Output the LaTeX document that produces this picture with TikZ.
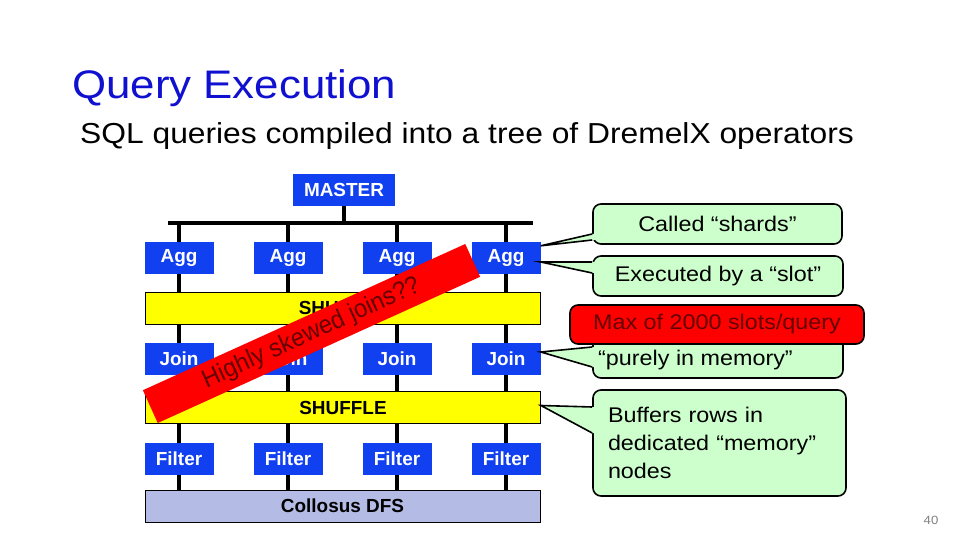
\documentclass[tikz,border=0pt]{standalone}
\usepackage{fontspec}
\setmainfont{Liberation Sans}
\newfontfamily\widefont[FakeStretch=1.1]{Liberation Sans}
\newfontfamily\narrowfont[FakeStretch=0.94]{Liberation Sans}
\usetikzlibrary{positioning,calc}
\definecolor{opblue}{RGB}{16,64,240}
\definecolor{shufyellow}{RGB}{255,255,0}
\definecolor{dfsblue}{RGB}{180,188,230}
\definecolor{notegreen}{RGB}{204,255,204}
\definecolor{titleblue}{RGB}{16,16,208}
\definecolor{darkred}{RGB}{100,0,0}

\begin{document}
\begin{tikzpicture}[x=1bp, y=-1bp, node distance=109bp]
\tikzstyle{op}=[fill=opblue,text=white,font=\bfseries\fontsize{19}{22}\selectfont,minimum width=69bp,minimum height=32bp,inner sep=0pt]
\tikzstyle{layer}=[draw=black,line width=0.8bp,fill=shufyellow,minimum width=395bp,minimum height=32bp,inner sep=0pt,font=\bfseries\fontsize{19}{22}\selectfont]
\tikzstyle{wire}=[line width=3.5bp]
\tikzstyle{note}=[draw=black,line width=1.6bp,fill=notegreen,rounded corners=8bp,inner sep=0pt,font=\widefont\fontsize{21.3}{28.5}\selectfont]
\tikzstyle{wedge}=[fill=notegreen]
\useasboundingbox (0,0) rectangle (960,540);

\node[anchor=base west,inner sep=0pt,text=titleblue,font=\widefont\fontsize{40}{46}\selectfont] (title) at (72,99) {Query Execution};
\node[anchor=base west,inner sep=0pt,font=\widefont\fontsize{29}{34}\selectfont] (subtitle) at (80,144) {SQL queries compiled into a tree of DremelX operators};

\node[op,minimum width=102bp] (master) at (344,190) {MASTER};
\node[op] (agg1)    at (179,258)      {Agg};
\node[op] (agg2)    [right of=agg1]   {Agg};
\node[op] (agg3)    [right of=agg2]   {Agg};
\node[op] (agg4)    [right of=agg3]   {Agg};
\node[op] (join1)   at (179,359)      {Join};
\node[op] (join2)   [right of=join1]  {Join};
\node[op] (join3)   [right of=join2]  {Join};
\node[op] (join4)   [right of=join3]  {Join};
\node[op] (filter1) at (179,459)      {Filter};
\node[op] (filter2) [right of=filter1] {Filter};
\node[op] (filter3) [right of=filter2] {Filter};
\node[op] (filter4) [right of=filter3] {Filter};
\node[layer] (sh1) at (342.5,308)   {SHUFFLE};
\node[layer] (sh2) at (343,407.5)   {SHUFFLE};
\node[layer,fill=dfsblue] (dfs) at (342.5,506) {Collosus DFS};

\coordinate (busL) at (168,223);
\coordinate (busR) at (533,223);
\draw[wire] (busL) -- (busR);
\draw[wire] (master.south) -- (master.south |- busL);
\foreach \i in {1,...,4} {
  \draw[wire] (agg\i.north) -- (agg\i.north |- busL)
              (agg\i.south) -- (agg\i.south |- sh1.north)
              (join\i.north) -- (join\i.north |- sh1.south)
              (join\i.south) -- (join\i.south |- sh2.north)
              (filter\i.north) -- (filter\i.north |- sh2.south)
              (filter\i.south) -- (filter\i.south |- dfs.north);
}

\node[fill=red,rotate=24.4,minimum width=354bp,minimum height=36bp,inner sep=0pt,text=darkred,font=\narrowfont\fontsize{25.5}{28}\selectfont] (skew) at (311.5,333.5) {Highly skewed joins??};

\node[note,minimum width=249bp,minimum height=40bp] (shards) at (717.5,224) {Called “shards”};
\node[note,minimum width=250bp,minimum height=40bp] (slot)   at (718,276)   {Executed by a “slot”};
\node[note,minimum width=250bp,minimum height=60bp] (memory) at (718,348)   {};
\node[anchor=base west,inner sep=0pt,font=\widefont\fontsize{21.3}{28.5}\selectfont] (memtext) at (598,366) {“purely in memory”};
\node[note,minimum width=253bp,minimum height=106bp,align=left,text width=223bp] (buffers) at (719.5,443) {Buffers rows in\\dedicated “memory”\\nodes};

\coordinate (tipA) at ($(agg4.north east)+(0,4)$);
\coordinate (tipB) at ($(agg4.east)+(0,4)$);
\coordinate (tipC) at ($(join4.east)+(0,-7)$);
\coordinate (tipD) at ($(sh2.east)+(0,-2)$);
\foreach \c/\t/\a/\b in {shards/tipA/10/16, slot/tipB/-14/-3, memory/tipC/-1/19, buffers/tipD/-36/-10} {
  \fill[wedge] (\t) -- ($(\c.west)+(0,\a)$) -- ($(\c.west)+(3,\a)$) -- ($(\c.west)+(3,\b)$) -- ($(\c.west)+(0,\b)$) -- cycle;
  \draw[line width=1.6bp] ($(\c.west)+(0,\a)$) -- (\t) -- ($(\c.west)+(0,\b)$);
}

\node[note,fill=red,text=darkred,minimum width=294bp,minimum height=39bp] (maxslots) at (717,324.5) {Max of 2000 slots/query};

\node[inner sep=0pt,text=gray,font=\widefont\fontsize{12}{14}\selectfont] (page) at (931,520) {40};
\end{tikzpicture}
\end{document}
